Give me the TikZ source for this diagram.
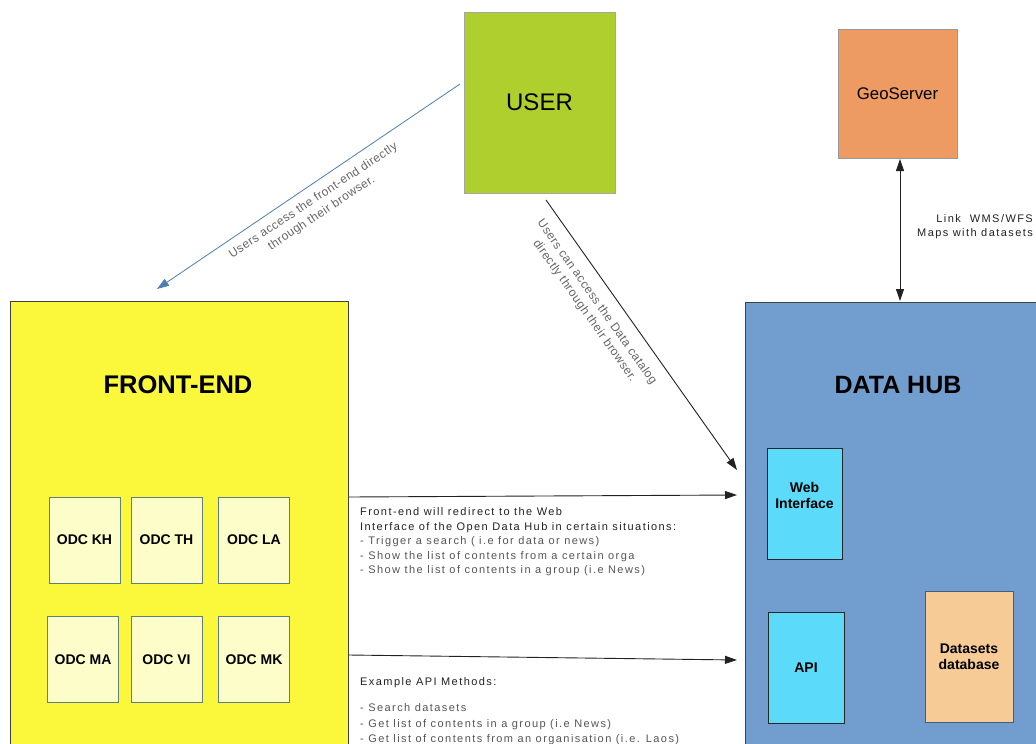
\documentclass[tikz,border=0pt]{standalone}
\usepackage{fontspec}
\setmainfont{Liberation Sans}
\newfontfamily\spaced[LetterSpace=13]{Liberation Sans}
\newfontfamily\rotspaced[LetterSpace=4]{Liberation Sans}
\usetikzlibrary{arrows.meta,calc}
\definecolor{usergreen}{HTML}{AFCF2E}
\definecolor{geoorange}{HTML}{EE9A63}
\definecolor{feyellow}{HTML}{FBF83C}
\definecolor{hubblue}{HTML}{729ECF}
\definecolor{odcfill}{HTML}{FDFDC9}
\definecolor{odcline}{HTML}{5F7F7F}
\definecolor{cyanfill}{HTML}{5BDAF9}
\definecolor{dbfill}{HTML}{F6CB95}
\definecolor{arrowblue}{HTML}{4F7DB5}
\definecolor{txtdark}{HTML}{222222}
\definecolor{txtgray}{HTML}{555555}
\definecolor{lblgray}{HTML}{666666}
\tikzset{
  box/.style={draw, line width=1pt, inner sep=0pt, rectangle},
  bigbox/.style={box, draw=black!75},
  odcbox/.style={box, draw=odcline, fill=odcfill, minimum width=71pt, minimum height=86pt,
    font=\fontsize{14}{16}\selectfont\bfseries},
  cyanbox/.style={box, draw=black!85, fill=cyanfill, minimum width=75pt, minimum height=111pt},
  smalltxt/.style={font=\fontsize{11}{14.5}\selectfont\spaced, inner sep=0pt, align=left},
  rottxt/.style={font=\fontsize{12}{15}\selectfont\rotspaced, inner sep=0pt, align=center, text=lblgray},
  conn/.style={line width=0.9pt, draw=txtdark, -{Triangle[length=12pt,width=8pt]}},
}
\begin{document}
\begin{tikzpicture}[x=1pt,y=-1pt]
\useasboundingbox (0,0) rectangle (1036,744);
\clip (0,0) rectangle (1036,744);
\fill[white] (0,0) rectangle (1036,744);

% main boxes
\node[box, draw=gray!70, fill=usergreen, minimum width=151pt, minimum height=181pt,
  font=\fontsize{24}{28}\selectfont] (user) at (539.5,102.5) {USER};
\node[box, draw=gray!80, fill=geoorange, minimum width=119pt, minimum height=129pt,
  font=\fontsize{16.8}{18}\selectfont] (geo) at (897.5,93.5) {GeoServer};
\node[bigbox, fill=feyellow, minimum width=338pt, minimum height=499pt] (fe) at (179,550.5) {};
\node[bigbox, fill=hubblue, minimum width=306pt, minimum height=498pt] (hub) at (898,551) {};
\node[font=\fontsize{25.5}{28}\selectfont\bfseries, inner sep=0pt] (fetitle) at (178,385) {FRONT-END};
\node[font=\fontsize{25}{28}\selectfont\bfseries, inner sep=0pt] (hubtitle) at (898,385) {DATA HUB};

% ODC boxes
\node[odcbox] (kh) at (84.5,540) {ODC KH};
\node[odcbox] (th) at (166.5,540) {ODC TH};
\node[odcbox] (la) at (254,540) {ODC LA};
\node[odcbox] (ma) at (83,659.5) {ODC MA};
\node[odcbox] (vi) at (166.5,659.5) {ODC VI};
\node[odcbox] (mk) at (254,659.5) {ODC MK};

% data hub parts
\node[cyanbox] (web) at (804.5,503.5) {};
\node[font=\fontsize{14}{16}\selectfont\bfseries, align=center, inner sep=0pt] (weblbl) at (804.5,495) {Web\\Interface};
\node[cyanbox, minimum width=76pt] (api) at (806,667.5) {\fontsize{14}{16}\selectfont\bfseries API};
\node[box, draw=hubblue!60!black, fill=dbfill, minimum width=88pt, minimum height=131pt,
  font=\fontsize{14}{15.5}\selectfont\bfseries, align=center] (db) at (969,656.5) {Datasets\\database};

% connector end points
\coordinate (a1s) at (460,84);
\coordinate (a1e) at (157,289);
\coordinate (a2s) at (546,200);
\coordinate (a2e) at (737,470);
\coordinate (a4s) at (349,497);
\coordinate (a4e) at (737,495);
\coordinate (a5s) at (349,655);
\coordinate (a5e) at (737,660);
\coordinate (gs) at (900,159);
\coordinate (ge) at (900,301);

% connectors
\draw[line width=0.8pt, draw=arrowblue, -{Triangle[length=12pt,width=8pt]}, arrowblue] (a1s) -- (a1e);
\draw[conn] (a2s) -- (a2e);
\draw[conn] (a4s) -- (a4e);
\draw[conn] (a5s) -- (a5e);
\draw[line width=0.9pt, draw=txtdark, {Triangle[length=12pt,width=8pt]}-{Triangle[length=12pt,width=8pt]}] (gs) -- (ge);

% labels
\node[rottxt, rotate=33.5] (l1) at (317.5,207) {Users access the front-end directly\\through their browser.};
\node[rottxt, rotate=-54.8] (l2) at (590.6,306.5) {Users can access the Data catalog\\directly through their browser.};
\node[smalltxt, align=right, text=txtdark, anchor=north east] (l3) at (1033,214) {Link\ \ WMS/WFS\\Maps with datasets};

\node[smalltxt, anchor=north west] (t1) at (360,507.5) {\color{txtdark}Front-end will redirect to the Web\\
\color{txtdark}Interface of the Open Data Hub in certain situations:\\
\color{txtgray}- Trigger a search ( i.e for data or news)\\
\color{txtgray}- Show the list of contents from a certain orga\\
\color{txtgray}- Show the list of contents in a group (i.e News)};

\node[smalltxt, font=\fontsize{11}{15.5}\selectfont\spaced, anchor=north west] (t2) at (360,677.5) {\color{txtdark}Example API Methods:\\[10.5pt]
\color{txtgray}- Search datasets\\
\color{txtgray}- Get list of contents in a group (i.e News)\\
\color{txtgray}- Get list of contents from an organisation (i.e. Laos)};
\end{tikzpicture}
\end{document}
